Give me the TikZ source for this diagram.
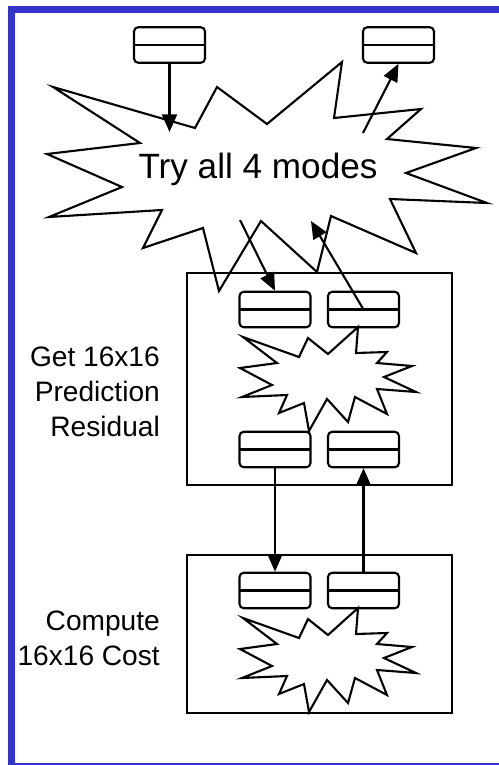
\documentclass[tikz,border=0pt]{standalone}
\usepackage{fontspec}
\setmainfont{Liberation Sans}
\usetikzlibrary{arrows.meta}
\definecolor{frameblue}{RGB}{52,52,204}

% one panel sparkle, shifted down by #1 pixels
\newcommand{\spark}[1]{%
  \draw[burst, shift={(0,#1)}] (243,337) -- (299,357) -- (308,338) -- (328,354)
    -- (358,327) -- (356,353) -- (387,352) -- (377,363) -- (412,366) -- (384,377)
    -- (416,392) -- (377,389) -- (387,414) -- (355,397) -- (348,422) -- (327,399)
    -- (309,431) -- (304,403) -- (279,413) -- (287,395) -- (242,397) -- (272,385)
    -- (240,368) -- (277,363) -- cycle;}

\begin{document}
\begin{tikzpicture}[
      x=0.02cm, y=-0.02cm,
      slot/.style={draw, line width=1.2pt, rounded corners=2.4pt, inner sep=0pt,
                   minimum width=1.42cm, minimum height=0.71cm,
                   path picture={\draw[line width=1.2pt] (path picture bounding box.west)
                                 -- (path picture bounding box.east);}},
      panel/.style={draw, line width=1.2pt},
      burst/.style={draw, line width=1.2pt, fill=white, line join=miter},
      ar/.style={-{Triangle[length=10pt, width=8.5pt]}, line width=1.2pt},
      lbl/.style={font=\fontsize{16}{19.8}\selectfont, align=right, anchor=east}
    ]
    \clip (0,0) rectangle (499,765);
    \fill[white] (0,0) rectangle (499,765);
    \draw[frameblue, line width=0.132cm] (11.3,9.3) rectangle (520,766);

    % big sparkle
    \draw[burst] (53,87) -- (195,128) -- (217,87) -- (267,124) -- (342,62)
      -- (334,118) -- (421,109) -- (387,139) -- (476,148) -- (406,173)
      -- (487,203) -- (390,199) -- (416,253) -- (331,216) -- (317,272)
      -- (261,221) -- (219,291) -- (203,228) -- (143,248) -- (162,210)
      -- (49,217) -- (122,187) -- (47,154) -- (140,143) -- cycle;
    \node[font=\fontsize{20}{24}\selectfont, anchor=base] (try) at (258,178) {Try all 4 modes};

    % panels
    \draw[panel] (187,273) rectangle (452,485);
    \draw[panel] (187,555) rectangle (452,713);
    \spark{0}
    \spark{281}

    \node[slot] (tl) at (169.5,45) {};
    \node[slot] (tr) at (398.5,45) {};
    \node[slot] (ul) at (275,309.5) {};
    \node[slot] (ur) at (363.5,309.5) {};
    \node[slot] (ll) at (275,449.5) {};
    \node[slot] (lr) at (363.5,449.5) {};
    \node[slot] (cl) at (275,590.5) {};
    \node[slot] (cr) at (363.5,590.5) {};

    \node[lbl] (getres) at (166,392) {Get 16x16\\Prediction\\Residual};
    \node[lbl] (cost) at (166,638) {Compute\\16x16 Cost};

    \coordinate (inA) at (169.5,132);
    \coordinate (outA) at (363,133);
    \coordinate (inB) at (240,220);
    \coordinate (outB) at (311,221);

    \draw[ar] (tl) -- (inA);
    \draw[ar] (outA) -- (tr.south);
    \draw[ar] (inB) -- (ul.north);
    \draw[ar] (ur.center) -- (outB);
    \draw[ar] (ll) -- (cl);
    \draw[ar] (cr) -- (lr);
  \end{tikzpicture}
\end{document}
